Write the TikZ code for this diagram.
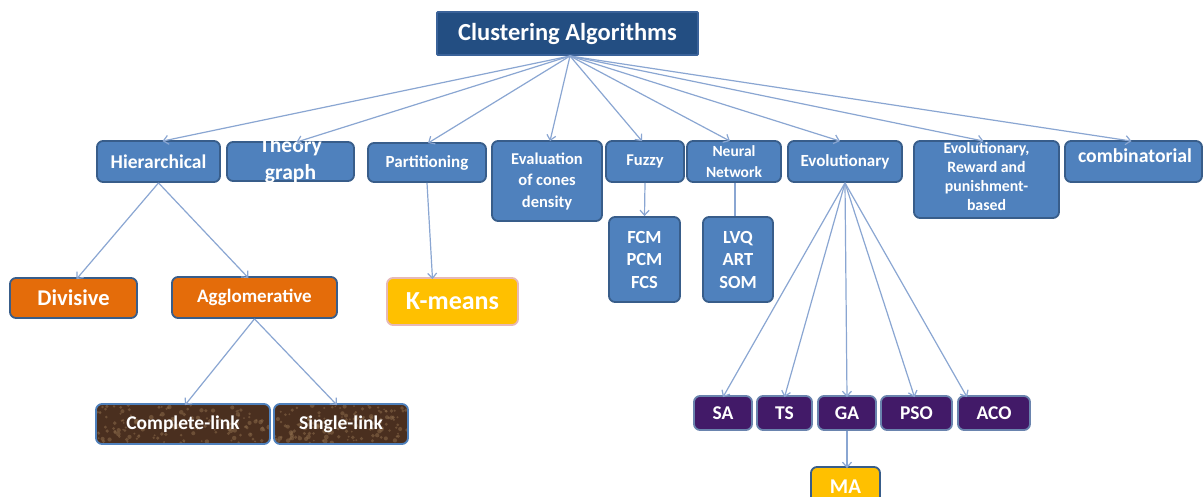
\documentclass[tikz,border=0pt]{standalone}
\usepackage{fontspec}
\setmainfont{Carlito}
\usetikzlibrary{arrows.meta}
\definecolor{rootblue}{HTML}{234E82}
\definecolor{rootedge}{HTML}{3A6299}
\definecolor{boxblue}{HTML}{4F81BD}
\definecolor{boxedge}{HTML}{385D8A}
\definecolor{linkblue}{HTML}{8AA6D2}
\definecolor{orng}{HTML}{E46C0A}
\definecolor{gold}{HTML}{FFC000}
\definecolor{pinkedge}{HTML}{E6B9B8}
\definecolor{brown}{HTML}{4A2F1F}
\definecolor{brownlt}{HTML}{8A6A4A}
\definecolor{purp}{HTML}{421A68}
\definecolor{purpedge}{HTML}{6A84AE}
\tikzset{
  base/.style={rounded corners=6pt, line width=1.8pt, inner sep=0pt, align=center, text=white},
  bluebox/.style={base, fill=boxblue, draw=boxedge},
  orbox/.style={base, fill=orng, draw=boxedge},
  goldbox/.style={base, fill=gold, draw=pinkedge},
  brbox/.style 2 args={base, fill=brown, draw=boxblue,
    path picture={\foreach \i in {1,...,140} {\fill[brownlt, opacity=0.55] (path picture bounding box.center) ++ ({(rnd-0.5)*#1},{(rnd-0.5)*#2}) circle ({0.8+rnd*1.6pt});}}},
  pubox/.style={base, fill=purp, draw=purpedge},
  conn/.style={draw=linkblue, line width=1.2pt, -{Straight Barb[length=5pt,width=9pt]}},
  plain/.style={draw=linkblue, line width=1.2pt}
}
\newcommand{\fs}[2]{\fontsize{#1}{#2}\selectfont\bfseries}
\begin{document}
\begin{tikzpicture}[x=1pt,y=-1pt]
\pgfmathsetseed{7}
\useasboundingbox (0,0) rectangle (1203,497);
\clip (0,0) rectangle (1203,497);
\fill[white] (0,0) rectangle (1203,497);
% root
\node[base, fill=rootblue, draw=rootedge, rounded corners=1pt, minimum width=261pt, minimum height=43pt, font=\fs{24.5}{28}] (root) at (567.5,33.5) {Clustering Algorithms};
\coordinate (rs) at (570,56);
% level 1
\node[bluebox, minimum width=123pt, minimum height=41pt, font=\fs{19.5}{22}] (hier) at (158.5,161.5) {Hierarchical};
\node[bluebox, minimum width=127pt, minimum height=39pt] (theory) at (290.5,161.5) {};
\node[text=white, font=\fs{21.5}{27}, align=center] (theorytxt) at (290.5,160) {Theory\\graph};
\node[bluebox, minimum width=118pt, minimum height=39pt, font=\fs{17}{20}] (part) at (427,162.5) {Partitioning};
\node[bluebox, minimum width=110pt, minimum height=80pt, font=\fs{16.5}{21.5}] (eval) at (547,181) {Evaluation\\of cones\\density};
\node[bluebox, minimum width=78pt, minimum height=41pt, font=\fs{16.5}{20}] (fuzzy) at (645,161.5) {Fuzzy};
\node[bluebox, minimum width=94pt, minimum height=41pt, font=\fs{15.5}{21}] (neural) at (734,161.5) {Neural\\Network};
\node[bluebox, minimum width=114pt, minimum height=41pt, font=\fs{17}{20}] (evol) at (845,161.5) {Evolutionary};
\node[bluebox, minimum width=145pt, minimum height=77pt] (erp) at (986.5,179.5) {};
\node[text=white, font=\fs{15.8}{19}, align=center] (erptxt) at (986.5,176.5) {Evolutionary,\\Reward and\\punishment-\\based};
\node[bluebox, minimum width=137pt, minimum height=41pt] (comb) at (1133.5,161.5) {};
\node[text=white, font=\fs{19.7}{22}] (combtxt) at (1135,156) {combinatorial};
% level 2
\node[orbox, minimum width=127pt, minimum height=40pt, font=\fs{22.5}{26}] (div) at (73.5,298) {Divisive};
\node[orbox, minimum width=165pt, minimum height=41pt, font=\fs{19}{22}] (agg) at (254.5,297.5) {Agglomerative};
\node[goldbox, minimum width=131pt, minimum height=47pt, font=\fs{26}{30}] (km) at (452.5,301.5) {K-means};
\node[bluebox, minimum width=71pt, minimum height=85pt, font=\fs{18.5}{22.5}] (fcm) at (644.5,259.5) {FCM\\PCM\\FCS};
\node[bluebox, minimum width=70pt, minimum height=85pt, font=\fs{18.5}{22.5}] (lvq) at (738,259.5) {LVQ\\ART\\SOM};
% level 3
\node[brbox={172}{38}, minimum width=174pt, minimum height=40pt, font=\fs{19.5}{22}] (comp) at (183,424) {Complete-link};
\node[brbox={132}{38}, minimum width=134pt, minimum height=40pt, font=\fs{19.5}{22}] (single) at (341,424) {Single-link};
\node[pubox, minimum width=58pt, minimum height=34pt, font=\fs{19.5}{22}] (sa) at (723,413) {SA};
\node[pubox, minimum width=55pt, minimum height=34pt, font=\fs{19.5}{22}] (ts) at (784.5,413) {TS};
\node[pubox, minimum width=58pt, minimum height=34pt, font=\fs{19.5}{22}] (ga) at (847,413) {GA};
\node[pubox, minimum width=71pt, minimum height=34pt, font=\fs{19.5}{22}] (pso) at (916.5,413) {PSO};
\node[pubox, minimum width=72pt, minimum height=34pt, font=\fs{19.5}{22}] (aco) at (994,413) {ACO};
\node[base, fill=gold, draw=boxedge, minimum width=69pt, minimum height=40pt, font=\fs{21}{24}] (ma) at (845.5,487) {MA};
% connectors from root
\draw[conn] (rs) -- ([xshift=4pt,yshift=-1pt]hier.north);
\draw[conn] (rs) -- ([xshift=6pt,yshift=-1pt]theory.north);
\draw[conn] (rs) -- ([xshift=1pt,yshift=-1pt]part.north);
\draw[conn] (rs) -- ([xshift=3pt,yshift=-1pt]eval.north);
\draw[conn] (rs) -- ([xshift=-3pt,yshift=-1pt]fuzzy.north);
\draw[conn] (rs) -- ([xshift=-4pt,yshift=-1pt]neural.north);
\draw[conn] (rs) -- ([xshift=-5pt,yshift=-1pt]evol.north);
\draw[conn] (rs) -- ([xshift=-3pt,yshift=-1pt]erp.north);
\draw[conn] (rs) -- ([xshift=-2pt,yshift=-1pt]comb.north);
% hierarchical
\draw[conn] (hier.south) -- ([xshift=3pt,yshift=-2pt]div.north);
\draw[conn] (hier.south) -- ([xshift=-6pt,yshift=-2pt]agg.north);
\draw[conn] (agg.south) -- ([xshift=2pt,yshift=-2pt]comp.north);
\draw[conn] (agg.south) -- ([xshift=-4pt,yshift=-2pt]single.north);
% partitioning
\draw[conn] (part.south) -- ([xshift=-20pt,yshift=-2pt]km.north);
% fuzzy, neural
\draw[conn] (fuzzy.south) -- (fcm.north);
\draw[plain] ([xshift=1pt]neural.south) -- ([xshift=-3pt]lvq.north);
% evolutionary
\draw[conn] (evol.south) -- ([yshift=-2pt]sa.north);
\draw[conn] (evol.south) -- ([yshift=-2pt]ts.north);
\draw[conn] (evol.south) -- ([yshift=-2pt]ga.north);
\draw[conn] (evol.south) -- ([xshift=-2pt,yshift=-2pt]pso.north);
\draw[conn] (evol.south) -- ([xshift=-27pt,yshift=-2pt]aco.north);
\draw[conn] (ga.south) -- ([xshift=1.5pt,yshift=-2pt]ma.north);
\end{tikzpicture}
\end{document}
